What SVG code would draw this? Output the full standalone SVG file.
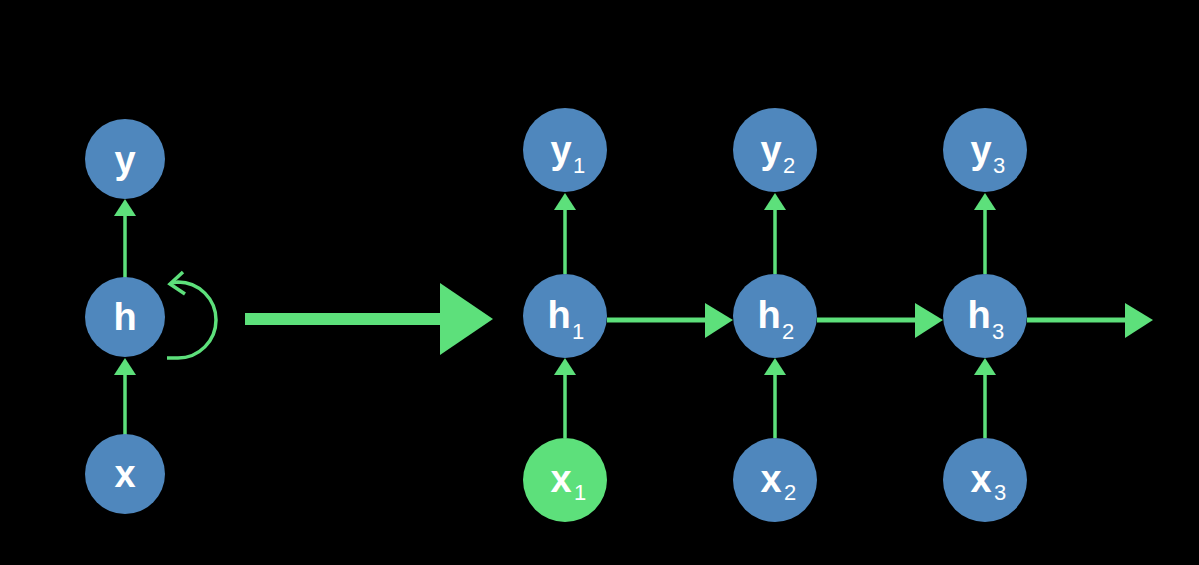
<svg xmlns="http://www.w3.org/2000/svg" width="1199" height="565" viewBox="0 0 1199 565">
<style>
.node{fill:#4f87bd}
.active{fill:#5de07b}
.lbl{font-family:"Liberation Sans",Arial,sans-serif;font-weight:bold;font-size:38px;fill:#ffffff;text-anchor:middle}
.sub{font-family:"Liberation Sans",Arial,sans-serif;font-size:22px;fill:#ffffff}
.ln{stroke:#5de07b;stroke-width:3.5;fill:none}
.lnh{stroke:#5de07b;stroke-width:5;fill:none}
.hd{fill:#5de07b}
</style>
<rect width="1199" height="565" fill="#000000"/>
<g id="connectors">
  <line class="ln" x1="125" y1="278" x2="125" y2="212"/>
  <polygon class="hd" points="114,216 125,199 136,216"/>
  <line class="ln" x1="125" y1="435" x2="125" y2="372"/>
  <polygon class="hd" points="114,375 125,358 136,375"/>
  <path class="ln" d="M167 358 L178 358 A38 38 0 0 0 178 282 L171 283"/>
  <path class="ln" d="M183 272 L170 284 L185 294"/>
  <rect class="hd" x="245" y="313" width="197" height="12"/>
  <polygon class="hd" points="440,283 493,319 440,355"/>
  <line class="ln" x1="565" y1="274" x2="565" y2="206"/>
  <polygon class="hd" points="554,210 565,193 576,210"/>
  <line class="ln" x1="565" y1="438" x2="565" y2="372"/>
  <polygon class="hd" points="554,375 565,358 576,375"/>
  <line class="ln" x1="775" y1="274" x2="775" y2="206"/>
  <polygon class="hd" points="764,210 775,193 786,210"/>
  <line class="ln" x1="775" y1="438" x2="775" y2="372"/>
  <polygon class="hd" points="764,375 775,358 786,375"/>
  <line class="ln" x1="985" y1="274" x2="985" y2="206"/>
  <polygon class="hd" points="974,210 985,193 996,210"/>
  <line class="ln" x1="985" y1="438" x2="985" y2="372"/>
  <polygon class="hd" points="974,375 985,358 996,375"/>
  <line class="lnh" x1="607" y1="320" x2="707" y2="320"/>
  <polygon class="hd" points="705,303 733,320 705,338"/>
  <line class="lnh" x1="817" y1="320" x2="917" y2="320"/>
  <polygon class="hd" points="915,303 943,320 915,338"/>
  <line class="lnh" x1="1027" y1="320" x2="1127" y2="320"/>
  <polygon class="hd" points="1125,303 1153,320 1125,338"/>
</g>
<g id="node-y">
  <circle class="node" cx="125" cy="159" r="40"/>
  <text class="lbl" x="125" y="173">y</text>
</g>
<g id="node-h">
  <circle class="node" cx="125" cy="317" r="40"/>
  <text class="lbl" x="125" y="330">h</text>
</g>
<g id="node-x">
  <circle class="node" cx="125" cy="474" r="40"/>
  <text class="lbl" x="125" y="487">x</text>
</g>
<g id="node-y1">
  <circle class="node" cx="565" cy="150" r="42"/>
  <text class="lbl" x="561" y="163">y</text>
  <text class="sub" x="573" y="173">1</text>
</g>
<g id="node-y2">
  <circle class="node" cx="775" cy="150" r="42"/>
  <text class="lbl" x="771" y="163">y</text>
  <text class="sub" x="783" y="173">2</text>
</g>
<g id="node-y3">
  <circle class="node" cx="985" cy="150" r="42"/>
  <text class="lbl" x="981" y="163">y</text>
  <text class="sub" x="993" y="173">3</text>
</g>
<g id="node-h1">
  <circle class="node" cx="565" cy="316" r="42"/>
  <text class="lbl" x="559" y="328">h</text>
  <text class="sub" x="572" y="339">1</text>
</g>
<g id="node-h2">
  <circle class="node" cx="775" cy="316" r="42"/>
  <text class="lbl" x="769" y="328">h</text>
  <text class="sub" x="782" y="339">2</text>
</g>
<g id="node-h3">
  <circle class="node" cx="985" cy="316" r="42"/>
  <text class="lbl" x="979" y="328">h</text>
  <text class="sub" x="992" y="339">3</text>
</g>
<g id="node-x1">
  <circle class="active" cx="565" cy="480" r="42"/>
  <text class="lbl" x="561" y="492">x</text>
  <text class="sub" x="574" y="500">1</text>
</g>
<g id="node-x2">
  <circle class="node" cx="775" cy="480" r="42"/>
  <text class="lbl" x="771" y="492">x</text>
  <text class="sub" x="784" y="500">2</text>
</g>
<g id="node-x3">
  <circle class="node" cx="985" cy="480" r="42"/>
  <text class="lbl" x="981" y="492">x</text>
  <text class="sub" x="994" y="500">3</text>
</g>
</svg>
